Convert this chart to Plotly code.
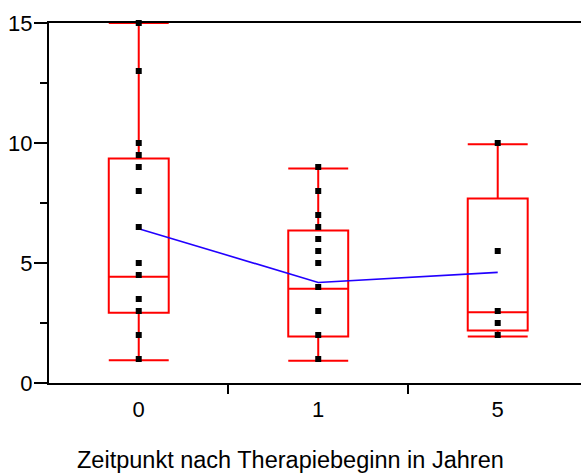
import plotly.graph_objects as go

# Time points after start of therapy (years)
categories = ["0", "1", "5"]

# Individual measurements per time point
values_0 = [15, 13, 10, 9.5, 9, 8, 6.5, 5, 4.5, 3.5, 3, 2, 1]
values_1 = [9, 8, 7, 6.5, 6, 5.5, 5, 4, 3, 2, 1]
values_5 = [10, 5.5, 3, 2.5, 2]

# Box summary statistics per time point
lower_whisker = [0.95, 0.93, 1.94]
q1 = [2.93, 1.94, 2.19]
median = [4.43, 3.93, 2.95]
q3 = [9.35, 6.35, 7.69]
upper_whisker = [15.0, 8.94, 9.95]

# Mean per time point
means = [6.43, 4.19, 4.61]

x_title = "Zeitpunkt nach Therapiebeginn in Jahren"

FONT = "Arial, Liberation Sans, sans-serif"

fig = go.Figure()

fig.add_trace(go.Box(
    x=categories,
    q1=q1,
    median=median,
    q3=q3,
    lowerfence=lower_whisker,
    upperfence=upper_whisker,
    width=0.334,
    whiskerwidth=1,
    boxpoints=False,
    line=dict(color="#ff0000", width=2),
    fillcolor="rgba(0,0,0,0)",
    showlegend=False,
    hoverinfo="skip",
))

fig.add_trace(go.Scatter(
    x=categories,
    y=means,
    mode="lines",
    line=dict(color="#2200ff", width=1.6),
    showlegend=False,
    cliponaxis=False,
))

for cat, vals in zip(categories, [values_0, values_1, values_5]):
    fig.add_trace(go.Scatter(
        x=[cat] * len(vals),
        y=vals,
        mode="markers",
        marker=dict(symbol="square", size=6, color="black", line=dict(width=0)),
        showlegend=False,
        cliponaxis=False,
    ))

fig.update_layout(
    width=581,
    height=474,
    margin=dict(l=49, r=0, t=23, b=91),
    paper_bgcolor="white",
    plot_bgcolor="white",
    font=dict(family=FONT, size=22, color="black"),
    xaxis=dict(
        type="category",
        range=[-0.5, 2.464],
        showline=True,
        linecolor="black",
        linewidth=2,
        mirror=True,
        showgrid=False,
        zeroline=False,
        ticks="outside",
        ticklen=6,
        tickcolor="rgba(0,0,0,0)",
        tickfont=dict(family=FONT, size=22, color="black"),
    ),
    xaxis2=dict(
        overlaying="x",
        side="bottom",
        range=[-0.5, 2.464],
        tickmode="array",
        tickvals=[0.5, 1.5],
        ticks="outside",
        ticklen=10,
        tickwidth=2,
        tickcolor="black",
        showticklabels=False,
        showgrid=False,
        zeroline=False,
        showline=False,
    ),
    yaxis=dict(
        range=[0, 15],
        tickvals=[0, 5, 10, 15],
        ticks="outside",
        ticklen=13,
        tickwidth=2,
        tickcolor="black",
        ticklabelstandoff=-3,
        showline=True,
        linecolor="black",
        linewidth=2,
        showgrid=False,
        zeroline=False,
        tickfont=dict(family=FONT, size=22, color="black"),
        minor=dict(
            tickmode="array",
            tickvals=[2.5, 7.5, 12.5],
            ticks="outside",
            ticklen=7,
            tickwidth=2,
            tickcolor="black",
            showgrid=False,
        ),
    ),
    annotations=[dict(
        text=x_title,
        xref="paper", yref="paper",
        x=0.454, y=-0.214,
        xanchor="center", yanchor="middle",
        showarrow=False,
        font=dict(family=FONT, size=23.5, color="black"),
    )],
)

# invisible trace so the tick-only overlay axis is rendered
fig.add_trace(go.Scatter(x=[0], y=[0], xaxis="x2", mode="markers",
                         marker=dict(opacity=0), showlegend=False, hoverinfo="skip"))

fig.write_html("out.html")
